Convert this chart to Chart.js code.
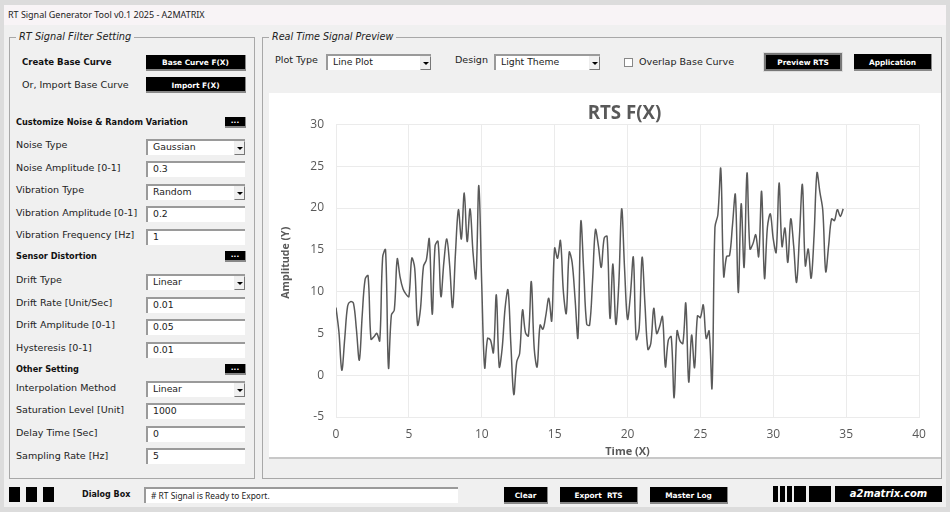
<!DOCTYPE html>
<html>
<head>
<meta charset="utf-8">
<script src="https://cdn.jsdelivr.net/npm/chart.js@4/dist/chart.umd.min.js"></script>
<style>
html, body { margin: 0; padding: 0; background: #dcdcdc; }
#app { position: relative; width: 950px; height: 512px; overflow: hidden; font-family: "DejaVu Sans", sans-serif; color: #222; }
#app div, #app span { position: absolute; white-space: nowrap; box-sizing: border-box; }
.win { left: 4px; top: 5px; width: 942px; height: 502px; background: #f0f0f0; }
.bar { left: 4px; top: 5px; width: 942px; height: 20px; background: #f8f4f6; }
.cap { left: 8px; top: 9px; font: 9px/12px "Noto Sans", sans-serif; letter-spacing: -0.02px; color: #222; }
.frame { border: 1px solid #a8a8a8; }
.leg { background: #f0f0f0; font: italic 9.8px/12px "DejaVu Sans", sans-serif; padding: 0 3px; color: #222; }
.lab { left: 16px; font-size: 9.55px; line-height: 12px; color: #222; }
.head { left: 16px; font: bold 8.2px/12px "DejaVu Sans", sans-serif; color: #111; }
.btn { background: #000; color: #fff; font: bold 7.4px/16px "DejaVu Sans", sans-serif; text-align: center; border-right: 1px solid #888; border-bottom: 2px solid #888; }
.sq { background: #000; }
.field { background: #fff; border-top: 2px solid #9a9a9a; border-left: 2px solid #9a9a9a; font-size: 9.3px; padding-left: 5px; line-height: 12px; color: #222; }
.arrow { right: 0; top: 0; width: 11px; height: 14px; background: #f0f0f0; border: 1px solid #777; border-top-color: #eee; border-left-color: #eee; }
.arrow::after { content: ""; position: absolute; left: 2px; top: 5px; border-left: 3px solid transparent; border-right: 3px solid transparent; border-top: 3px solid #000; }
#plot { left: 269px; top: 93px; width: 672px; height: 366px; background: #fff; border-bottom: 2px solid #c8c8c8; }
canvas { display: block; }
</style>
</head>
<body>
<div id="app">
  <div class="win"></div>
  <div class="bar"></div>
  <div class="cap">RT Signal Generator Tool v0.1 2025 - A2MATRIX</div>

  <div class="frame" style="left:9px;top:37px;width:246px;height:442px"></div>
  <div class="leg" style="left:16px;top:31px">RT Signal Filter Setting</div>
  <div class="frame" style="left:262px;top:37px;width:680px;height:442px"></div>
  <div class="leg" style="left:269px;top:31px;font-size:9.6px">Real Time Signal Preview</div>

  <div class="head" style="left:22px;top:56px;font-size:8.6px">Create Base Curve</div>
  <div class="lab" style="left:22px;top:79px">Or, Import Base Curve</div>
  <div class="btn" style="left:146px;top:55px;width:100px;height:16px">Base Curve F(X)</div>
  <div class="btn" style="left:146px;top:77px;width:100px;height:16px;line-height:18px">Import F(X)</div>

  <div class="head" style="top:116px">Customize Noise &amp; Random Variation</div>
  <div class="btn" style="left:225px;top:117px;width:21px;height:11px;line-height:8px">...</div>
  <div class="head" style="top:250px">Sensor Distortion</div>
  <div class="btn" style="left:225px;top:251px;width:21px;height:11px;line-height:8px">...</div>
  <div class="head" style="top:363px">Other Setting</div>
  <div class="btn" style="left:225px;top:364px;width:21px;height:11px;line-height:8px">...</div>

  <div class="lab" style="top:139px">Noise Type</div>
  <div class="lab" style="top:162px">Noise Amplitude [0-1]</div>
  <div class="lab" style="top:184px">Vibration Type</div>
  <div class="lab" style="top:207px">Vibration Amplitude [0-1]</div>
  <div class="lab" style="top:229px">Vibration Frequency [Hz]</div>
  <div class="lab" style="top:274px">Drift Type</div>
  <div class="lab" style="top:297px">Drift Rate [Unit/Sec]</div>
  <div class="lab" style="top:319px">Drift Amplitude [0-1]</div>
  <div class="lab" style="top:342px">Hysteresis [0-1]</div>
  <div class="lab" style="top:382px">Interpolation Method</div>
  <div class="lab" style="top:404px">Saturation Level [Unit]</div>
  <div class="lab" style="top:427px">Delay Time [Sec]</div>
  <div class="lab" style="top:450px">Sampling Rate [Hz]</div>

  <div class="field" style="left:146px;top:139px;width:99px;height:16px">Gaussian<span class="arrow"></span></div>
  <div class="field" style="left:146px;top:161px;width:99px;height:16px">0.3</div>
  <div class="field" style="left:146px;top:184px;width:99px;height:16px">Random<span class="arrow"></span></div>
  <div class="field" style="left:146px;top:206px;width:99px;height:16px">0.2</div>
  <div class="field" style="left:146px;top:229px;width:99px;height:16px">1</div>
  <div class="field" style="left:146px;top:274px;width:99px;height:16px">Linear<span class="arrow"></span></div>
  <div class="field" style="left:146px;top:297px;width:99px;height:16px">0.01</div>
  <div class="field" style="left:146px;top:319px;width:99px;height:16px">0.05</div>
  <div class="field" style="left:146px;top:342px;width:99px;height:16px">0.01</div>
  <div class="field" style="left:146px;top:381px;width:99px;height:16px">Linear<span class="arrow"></span></div>
  <div class="field" style="left:146px;top:403px;width:99px;height:16px">1000</div>
  <div class="field" style="left:146px;top:426px;width:99px;height:16px">0</div>
  <div class="field" style="left:146px;top:448px;width:99px;height:16px">5</div>

  <div class="lab" style="left:275px;top:54px">Plot Type</div>
  <div class="field" style="left:326px;top:54px;width:105px;height:16px">Line Plot<span class="arrow"></span></div>
  <div class="lab" style="left:455px;top:54px">Design</div>
  <div class="field" style="left:494px;top:54px;width:106px;height:16px">Light Theme<span class="arrow"></span></div>
  <div style="left:624px;top:58px;width:9px;height:9px;background:#fff;border:1px solid #888"></div>
  <div class="lab" style="left:639px;top:56px">Overlap Base Curve</div>
  <div class="btn" style="left:764px;top:53px;width:78px;height:18px;border:2px solid #777;line-height:15px;outline:1px solid #ddd">Preview RTS</div>
  <div class="btn" style="left:854px;top:54px;width:78px;height:17px;line-height:17px">Application</div>

  <div id="plot"><canvas id="rtsChart" width="672" height="365"></canvas></div>

  <div class="sq" style="left:9px;top:487px;width:11px;height:15px"></div>
  <div class="sq" style="left:26px;top:487px;width:11px;height:15px"></div>
  <div class="sq" style="left:43px;top:487px;width:11px;height:15px"></div>
  <div class="head" style="left:82px;top:489px;font-size:8px">Dialog Box</div>
  <div class="field" style="left:144px;top:487px;width:314px;height:16px;font:8.4px/13px 'Noto Sans',sans-serif">&#35; RT Signal is Ready to Export.</div>
  <div class="btn" style="left:504px;top:487px;width:44px;height:17px;line-height:18px">Clear</div>
  <div class="btn" style="left:560px;top:487px;width:78px;height:17px;line-height:18px">Export&nbsp; RTS</div>
  <div class="btn" style="left:650px;top:487px;width:78px;height:17px;line-height:18px">Master Log</div>
  <div class="sq" style="left:773px;top:486px;width:5px;height:16px"></div>
  <div class="sq" style="left:780px;top:486px;width:5px;height:16px"></div>
  <div class="sq" style="left:787px;top:486px;width:5px;height:16px"></div>
  <div class="sq" style="left:794px;top:486px;width:12px;height:16px"></div>
  <div class="sq" style="left:809px;top:486px;width:22px;height:16px"></div>
  <div class="sq" style="left:835px;top:486px;width:107px;height:16px;color:#fff;font:italic bold 10px/15px 'DejaVu Sans',sans-serif;text-align:center">a2matrix.com</div>
</div>

<script>
const chartTitle = 'RTS F(X)';
const xAxisTitle = 'Time (X)';
const yAxisTitle = 'Amplitude (Y)';

const timeValues = [
  0, 0.2, 0.4, 0.6, 0.8, 1, 1.2, 1.4, 1.6, 1.8, 2, 2.2, 2.4, 2.6, 2.8,
  3, 3.2, 3.4, 3.6, 3.8, 4, 4.2, 4.4, 4.6, 4.8, 5, 5.2, 5.4, 5.6, 5.8,
  6, 6.2, 6.4, 6.6, 6.8, 7, 7.2, 7.4, 7.6, 7.8, 8, 8.2, 8.4, 8.6, 8.8,
  9, 9.2, 9.4, 9.6, 9.8, 10, 10.2, 10.4, 10.6, 10.8, 11, 11.2, 11.4, 11.6, 11.8,
  12, 12.2, 12.4, 12.6, 12.8, 13, 13.2, 13.4, 13.6, 13.8, 14, 14.2, 14.4, 14.6, 14.8,
  15, 15.2, 15.4, 15.6, 15.8, 16, 16.2, 16.4, 16.6, 16.8, 17, 17.2, 17.4, 17.6, 17.8,
  18, 18.2, 18.4, 18.6, 18.8, 19, 19.2, 19.4, 19.6, 19.8, 20, 20.2, 20.4, 20.6, 20.8,
  21, 21.2, 21.4, 21.6, 21.8, 22, 22.2, 22.4, 22.6, 22.8, 23, 23.2, 23.4, 23.6, 23.8,
  24, 24.2, 24.4, 24.6, 24.8, 25, 25.2, 25.4, 25.6, 25.8, 26, 26.2, 26.4, 26.6, 26.8,
  27, 27.2, 27.4, 27.6, 27.8, 28, 28.2, 28.4, 28.6, 28.8, 29, 29.2, 29.4, 29.6, 29.8,
  30, 30.2, 30.4, 30.6, 30.8, 31, 31.2, 31.4, 31.6, 31.8, 32, 32.2, 32.4, 32.6, 32.8,
  33, 33.2, 33.4, 33.6, 33.8, 34, 34.2, 34.4, 34.6, 34.8
];

const amplitudeValues = [
  8.1, 5.2, 0.6, 4.4, 8.3, 8.8, 8.6, 5.5, 1.8, 7.2, 11.5, 11.9, 4.3, 4.6, 5.0,
  4.1, 14.1, 15.0, 0.9, 7.2, 7.8, 13.9, 11.7, 10.3, 9.7, 9.4, 14.0, 12.8, 6.0, 8.0,
  13.0, 13.8, 16.3, 7.3, 15.5, 16.0, 9.4, 13.5, 16.3, 13.1, 8.1, 14.7, 19.8, 16.3, 21.8,
  16.0, 19.9, 14.7, 11.6, 22.7, 10.8, 0.9, 4.4, 4.2, 2.7, 9.6, 1.0, 3.2, 8.0, 10.2,
  3.6, -2.3, 1.6, 2.6, 7.8, 5.1, 4.7, 11.2, 3.2, 1.0, 6.0, 5.5, 7.2, 9.2, 6.5,
  15.2, 14.0, 16.1, 10.0, 7.4, 14.7, 13.5, 9.2, 4.5, 18.4, 12.3, 6.1, 6.0, 11.2, 17.4,
  15.5, 12.9, 16.4, 16.6, 6.8, 13.3, 6.1, 10.8, 19.9, 12.7, 6.7, 9.6, 14.1, 4.3, 5.6,
  14.1, 8.4, 3.1, 3.8, 8.0, 5.0, 5.8, 7.0, 1.0, 4.2, 4.6, -2.7, 5.3, 4.1, 3.8,
  8.6, -0.8, 4.8, 0.9, 7.1, 6.9, 8.4, 4.4, 5.3, -1.5, 17.7, 19.2, 24.7, 11.8, 14.2,
  14.3, 17.9, 21.6, 9.9, 20.5, 12.9, 24.2, 15.1, 15.7, 16.8, 14.2, 22.0, 11.6, 17.7, 19.3,
  16.3, 14.7, 23.0, 15.4, 17.6, 13.5, 18.7, 15.5, 11.1, 16.7, 22.8, 13.1, 15.1, 11.6, 16.7,
  24.2, 21.9, 19.7, 12.4, 15.5, 18.7, 18.5, 19.8, 19.0, 19.9
];

const xTicks = [0, 5, 10, 15, 20, 25, 30, 35, 40];
const yTicks = [-5, 0, 5, 10, 15, 20, 25, 30];

const gridColor = '#ebebeb';
const textColor = '#595959';

const points = timeValues.map((t, i) => ({ x: t, y: amplitudeValues[i] }));

Chart.defaults.font.family = '"Open Sans", sans-serif';
Chart.defaults.color = textColor;

// the reference has its chart title and y title a little off centre
const nudgeTitles = {
    id: 'nudgeTitles',
    afterLayout(chart) {
        chart.titleBlock.left -= 3;
        chart.titleBlock.right -= 3;
        const yScale = chart.scales.y;
        const drawTitle = yScale.drawTitle;
        yScale.drawTitle = function () {
            chart.ctx.save();
            chart.ctx.translate(0, -8);
            drawTitle.call(this);
            chart.ctx.restore();
        };
    }
};

new Chart(document.getElementById('rtsChart'), {
    type: 'scatter',
    data: {
        datasets: [{
            label: 'RTS',
            data: points,
            showLine: true,
            borderColor: '#595959',
            borderWidth: 1.5,
            tension: 0.35,
            pointRadius: 0
        }]
    },
    plugins: [nudgeTitles],
    options: {
        responsive: false,
        animation: false,
        devicePixelRatio: 1,
        layout: { padding: { left: 0, right: 22, top: 0, bottom: 0 } },
        plugins: {
            legend: { display: false },
            tooltip: { enabled: false },
            title: {
                display: true,
                fullSize: false,
                text: chartTitle,
                color: textColor,
                font: { size: 18.7, weight: 'bold' },
                padding: { top: 9, bottom: 0 }
            }
        },
        scales: {
            x: {
                type: 'linear',
                min: 0,
                max: 40,
                afterBuildTicks: axis => { axis.ticks = xTicks.map(v => ({ value: v })); },
                afterFit: axis => { axis.height = 41; },
                grid: { color: gridColor, lineWidth: 1, drawTicks: false },
                border: { color: gridColor },
                ticks: { padding: 10, maxRotation: 0, font: { size: 12 } },
                title: { display: true, text: xAxisTitle, color: textColor, font: { size: 11, weight: 'bold' }, padding: 0 }
            },
            y: {
                min: -5,
                max: 30,
                afterBuildTicks: axis => { axis.ticks = yTicks.map(v => ({ value: v })); },
                afterFit: axis => { axis.width = 67; },
                grid: { color: gridColor, lineWidth: 1, drawTicks: false },
                border: { color: gridColor },
                ticks: { padding: 12, font: { size: 12 } },
                title: { display: true, text: yAxisTitle, color: textColor, font: { size: 10.6, weight: 'bold' }, padding: { top: 11, bottom: 0 } }
            }
        }
    }
});
</script>
</body>
</html>
